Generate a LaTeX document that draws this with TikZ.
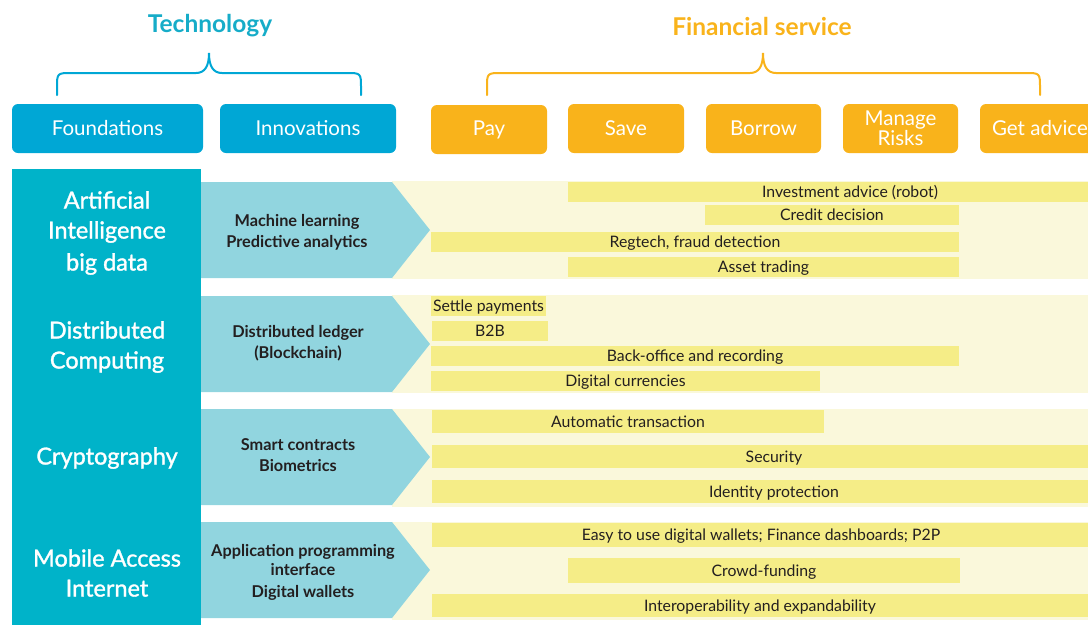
\documentclass[tikz,border=0pt]{standalone}
\usepackage{fontspec}
\setmainfont{Lato}
\newfontfamily\medfont[FakeBold=1.3]{Lato}
\definecolor{hdrblue}{RGB}{0,167,213}
\definecolor{colteal}{RGB}{0,179,201}
\definecolor{arrowblue}{RGB}{145,213,223}
\definecolor{titleteal}{RGB}{22,172,200}
\definecolor{orng}{RGB}{249,179,27}
\definecolor{bgyellow}{RGB}{250,248,219}
\definecolor{baryellow}{RGB}{245,237,135}
\definecolor{darktext}{RGB}{35,31,32}
\tikzset{
  hdrbox/.style={rounded corners=6pt, inner sep=0pt, text=white, align=center,
    font=\fontsize{20.5}{18.5}\selectfont, minimum height=49pt},
  techbox/.style={hdrbox, fill=hdrblue},
  finbox/.style={hdrbox, fill=orng},
  bar/.style={fill=baryellow, inner sep=0pt, text=darktext, text height=13pt, text depth=1.6pt,
    font=\fontsize{15.8}{15.8}\selectfont},
  coltext/.style={text=white, align=center, font=\medfont\fontsize{23.5}{30}\selectfont},
  arrtext/.style={text=darktext, align=center, font=\bfseries\fontsize{16.3}{21}\selectfont},
  titletext/.style={font=\bfseries\fontsize{24.5}{24.5}\selectfont},
  bracestyle/.style={line width=2pt, line cap=round}
}
\newcommand\mybar[6]{\node[bar, minimum width=#2pt-#1pt, minimum height=#4pt-#3pt] (#5) at ({(#1+#2)/2},{(#3+#4)/2}) {#6};}
\newcommand\myarrow[2]{\fill[arrowblue] (201,#1) -- (392,#1) -- (430,{(#1+#2)/2}) -- (392,#2) -- (201,#2) -- cycle;}
\begin{document}
\begin{tikzpicture}[x=1pt,y=-1pt]
\useasboundingbox (0,0) rectangle (1088,625);
\clip (0,0) rectangle (1088,625);

% titles
\node[titletext, text=titleteal] (tech) at (210,26) {Technology};
\node[titletext, text=orng] (fin) at (762,26) {Financial service};

% braces
\coordinate (tb1) at (57,95);
\coordinate (tb2) at (361,95);
\coordinate (fb1) at (487,95);
\coordinate (fb2) at (1040,95);
\draw[bracestyle, hdrblue] (tb1) -- (57,88) .. controls (57,73) .. (72,73) -- (196,73)
  .. controls (205,73) and (209,66) .. (209,53)
  .. controls (209,66) and (213,73) .. (222,73) -- (346,73)
  .. controls (361,73) .. (361,88) -- (tb2);
\draw[bracestyle, orng] (fb1) -- (487,88) .. controls (487,73) .. (502,73) -- (750,73)
  .. controls (759,73) and (763,66) .. (763,53)
  .. controls (763,66) and (767,73) .. (776,73) -- (1025,73)
  .. controls (1040,73) .. (1040,88) -- (fb2);

% header boxes
\node[techbox, minimum width=191pt] (found) at (107.5,128.5) {Foundations};
\node[techbox, minimum width=176pt] (innov) at (308,128.5) {Innovations};
\node[finbox, minimum width=116pt] (pay) at (489,129.5) {Pay};
\node[finbox, minimum width=116pt] (save) at (626,128.5) {Save};
\node[finbox, minimum width=115pt] (borrow) at (763.5,128.5) {Borrow};
\node[finbox, minimum width=115pt] (manage) at (900.5,128.5) {Manage\\Risks};
\node[finbox, minimum width=120pt] (advice) at (1040,128.5) {Get advice};

% teal column
\fill[colteal] (12,169) rectangle (201,625);

% row backgrounds
\fill[bgyellow] (392,181) rectangle (1088,279);
\fill[bgyellow] (392,295) rectangle (1088,393);
\fill[bgyellow] (392,409) rectangle (1088,507);
\fill[bgyellow] (392,522) rectangle (1088,620);

% arrows
\myarrow{182}{278}
\myarrow{296}{392}
\myarrow{409}{505}
\myarrow{522}{618}

% column texts
\node[coltext] (ai) at (107,233) {Artificial\\Intelligence\\[2pt]big data};
\node[coltext] (dc) at (107,347) {Distributed\\Computing};
\node[coltext] (cr) at (107,458) {Cryptography};
\node[coltext] (ma) at (107,573) {Mobile Access\\Internet};

% arrow texts
\node[arrtext] (ml) at (297,232) {Machine learning\\Predictive analytics};
\node[arrtext] (dl) at (298,343) {Distributed ledger\\(Blockchain)};
\node[arrtext] (sc) at (298,455) {Smart contracts\\Biometrics};
\node[arrtext, font=\bfseries\fontsize{16.3}{19}\selectfont] (api) at (303,572) {Application programming\\interface\\[3pt]Digital wallets};

% row 1 bars
\mybar{568}{1132}{182}{202}{b11}{Investment advice (robot)}
\mybar{705}{959}{205}{225}{b12}{Credit decision}
\mybar{431}{959}{232}{252}{b13}{Regtech, fraud detection}
\mybar{568}{959}{257}{277}{b14}{Asset trading}
% row 2 bars
\mybar{431}{546}{296}{316}{b21}{Settle payments}
\mybar{432}{548}{321}{341}{b22}{B2B}
\mybar{431}{959}{346}{366}{b23}{Back-office and recording}
\mybar{431}{820}{371}{391}{b24}{Digital currencies}
% row 3 bars
\mybar{432}{824}{410}{433}{b31}{Automatic transaction}
\mybar{432}{1116}{445}{468}{b32}{Security}
\mybar{432}{1116}{480}{503}{b33}{Identity protection}
% row 4 bars
\mybar{432}{1090}{523}{547}{b41}{Easy to use digital wallets; Finance dashboards; P2P}
\mybar{568}{960}{558}{583}{b42}{Crowd-funding}
\mybar{432}{1088}{594}{617}{b43}{Interoperability and expandability}
\end{tikzpicture}
\end{document}
